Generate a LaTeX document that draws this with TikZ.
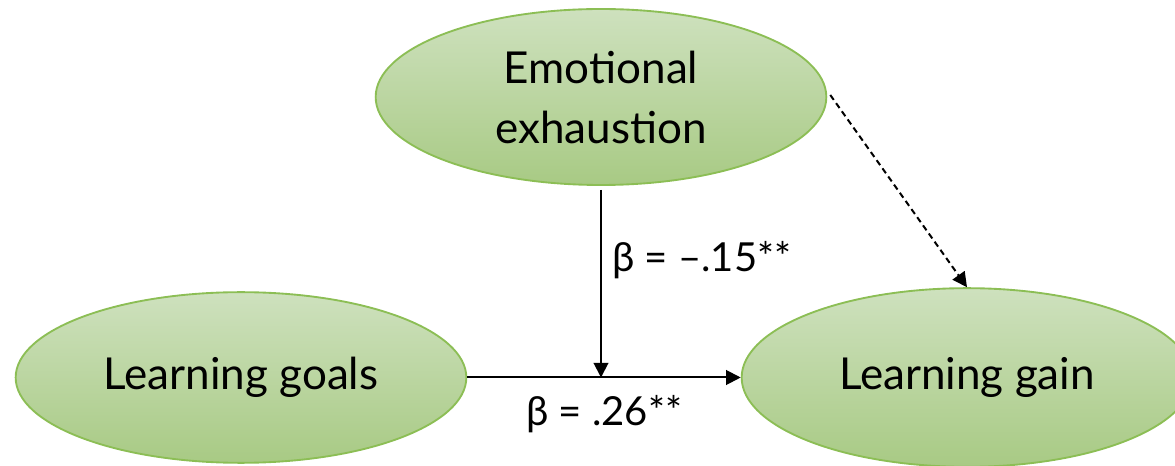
\documentclass[tikz,border=0pt]{standalone}
\usepackage{fontspec}
\setmainfont{Lato}
\usetikzlibrary{shapes.geometric,arrows.meta}
\definecolor{fillTop}{RGB}{206,225,190}
\definecolor{fillBot}{RGB}{168,202,132}
\definecolor{edgeGreen}{RGB}{140,190,85}
\begin{document}
\begin{tikzpicture}[x=0.75pt,y=-0.75pt,
  blob/.style={ellipse, draw=edgeGreen, line width=1.4pt, top color=fillTop, bottom color=fillBot,
    minimum width=338pt, minimum height=132pt, inner sep=0pt, align=center,
    font=\fontsize{33}{45}\selectfont},
  link/.style={line width=1.5pt, -{Triangle[length=11pt,width=11pt]}},
  lbl/.style={font=\fontsize{30}{32}\selectfont, inner sep=0pt}]
\useasboundingbox (0,0) rectangle (1175,466);
\clip (0,0) rectangle (1175,466);
\node[blob] (E) at (601,97) {Emotional\\exhaustion};
\node[blob, minimum height=128pt] (G) at (241,377.5) {Learning goals};
\node[blob, minimum height=134pt] (N) at (967,377.5) {Learning gain};
\coordinate (J) at (E.south |- G.east);
\draw[link] (G.east) -- (G.east -| N.west);
\draw[link] ([yshift=-3pt]E.south) -- (J);
\draw[link, dash pattern=on 4.5pt off 3pt] ([shift={(3,-2)}]E.east) -- (N.north);
\node[lbl, anchor=base west] (L1) at (612,272) {β = –.15**};
\node[lbl, anchor=base west] (L2) at (526,426) {β = .26**};
\end{tikzpicture}
\end{document}
